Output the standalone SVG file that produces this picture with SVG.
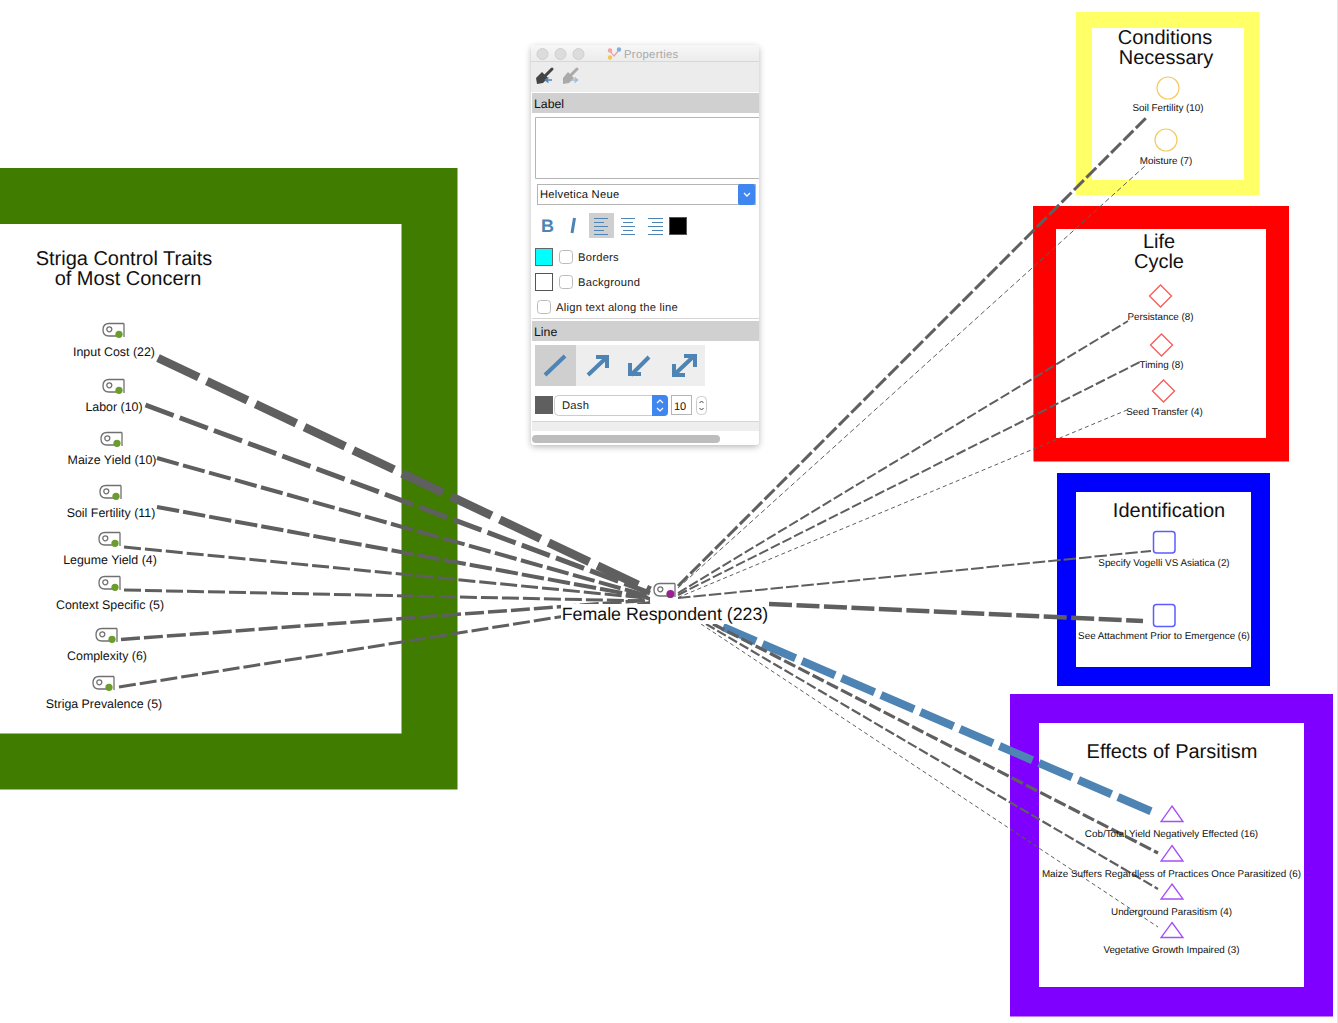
<svg xmlns="http://www.w3.org/2000/svg" width="1338" height="1023" viewBox="0 0 1338 1023">
<style>
text{font-family:"Liberation Sans",Arial,sans-serif;fill:#111;text-rendering:geometricPrecision}
.t{font-size:20px;text-anchor:middle}
.l{font-size:12.400px;text-anchor:middle}
.s{font-size:9.850px;text-anchor:middle}
.c{fill:none;stroke:#5f5f5f}
.p{font-size:11.200px;letter-spacing:.25px;fill:#222}
.sec{fill:#d0d0d0}
.bx{fill:#fff;stroke:#b5b5b5;stroke-width:1}
.ar{fill:none;stroke:#4d84b4;stroke-width:4}
.ic{fill:none;stroke:#707070;stroke-width:1.300}
.dm{fill:#fff;stroke:#fa5a5a;stroke-width:1.300}
.sq{fill:#fff;stroke:#5c5cff;stroke-width:1.500}
.tr{fill:#fff;stroke:#a54dfa;stroke-width:1.300}
.cr{fill:#fff;stroke:#f2cc60;stroke-width:1.200}
</style>
<defs>
<g id="act"><path class="ic" d="M19 -6.500H4Q-2 -6.500 -2 0Q-2 6 4 6H14M19 -6.500V7"/><circle class="ic" cx="4.300" cy="-0.700" r="2.500"/><circle cx="14" cy="4.300" r="3.600" fill="#6b9c2e"/></g>
<linearGradient id="tb" x1="0" y1="0" x2="0" y2="1"><stop offset="0" stop-color="#f7f7f7"/><stop offset="1" stop-color="#ebebeb"/></linearGradient>
<filter id="sh" x="-10%" y="-5%" width="120%" height="110%"><feDropShadow dx="0" dy="2" stdDeviation="3" flood-color="#000" flood-opacity=".28"/></filter>
</defs>
<rect width="1338" height="1023" fill="#fff"/>
<rect x="1337" width="1" height="1023" fill="#e6e6e6"/>
<g id="frames">
<path id="frame-traits" fill="#3f7c00" fill-rule="evenodd" d="M0 168H457.500V789.500H0ZM0 224V733.500H401.500V224Z"/>
<path id="frame-conditions" fill="#ffff66" fill-rule="evenodd" d="M1076 12H1259.500V195H1076ZM1092 28V180H1244V28Z"/>
<path id="frame-life" fill="#ff0000" fill-rule="evenodd" d="M1033 206H1289V461.500H1033.500ZM1056 229V438H1266V229Z"/>
<path id="frame-ident" fill="#0000ff" fill-rule="evenodd" d="M1057 473H1270V686H1057ZM1076 492V667H1251V492Z"/>
<path id="frame-effects" fill="#8000ff" fill-rule="evenodd" d="M1010 694H1333V1016.500H1010ZM1039 723V987H1304V723Z"/>
</g>
<g id="connectors">
<path class="c" stroke-width="8.500" stroke-dasharray="45 9" d="M158 358L650 590.500"/>
<path class="c" stroke-width="5" stroke-dasharray="30 6.500" d="M145.500 405L650 593"/>
<path class="c" stroke-width="4" stroke-dasharray="22.500 4.500" d="M157 458L650 596.500"/>
<path class="c" stroke-width="4" stroke-dasharray="22.500 4" d="M157 507L650 598"/>
<path class="c" stroke-width="3" stroke-dasharray="17 4" d="M124 547L650 598.500"/>
<path class="c" stroke-width="3" stroke-dasharray="17 4" d="M124 590L650 601"/>
<path class="c" stroke-width="3.500" stroke-dasharray="19 4" d="M121 639.500L650 600"/>
<path class="c" stroke-width="3" stroke-dasharray="17 4" d="M119 687L650 602.500"/>
<path class="c" stroke-width="3" stroke-dasharray="14 3.500" d="M678 586L1147 117"/>
<path class="c" stroke-width="1" stroke-dasharray="5 3" d="M678 588L1145 166"/>
<path class="c" stroke-width="2" stroke-dasharray="10 3" d="M678 593L1128 321"/>
<path class="c" stroke-width="2" stroke-dasharray="10 3" d="M678 595L1140 362"/>
<path class="c" stroke-width="1" stroke-dasharray="4 3" d="M678 597.500L1127 410"/>
<path class="c" stroke-width="2" stroke-dasharray="12.500 3" d="M678 598L1151 551"/>
<path class="c" stroke-width="4.500" stroke-dasharray="23 4.500" d="M769 604L1143 621"/>
<path stroke="#4d84b4" fill="none" stroke-width="8" stroke-dasharray="36 7" d="M723 627L1155 813"/>
<path class="c" stroke-width="3.200" stroke-dasharray="12.500 3.500" d="M713 624L1158 853"/>
<path class="c" stroke-width="2.200" stroke-dasharray="10 3" d="M706 624L1158 889"/>
<path class="c" stroke-width="1" stroke-dasharray="4 3" d="M701 624L1158 927"/>
</g>
<g id="panel">
<rect x="531" y="45" width="228" height="400" rx="4" fill="#fff" filter="url(#sh)"/>
<path d="M531 62V49Q531 45 535 45H755Q759 45 759 49V62Z" fill="url(#tb)"/>
<path d="M531 61.500H759" stroke="#d8d8d8"/>
<rect x="531" y="62" width="228" height="30" fill="#ececec"/>
<circle cx="542.500" cy="54" r="5.500" fill="#dcdcdc" stroke="#cfcfcf"/><circle cx="560.500" cy="54" r="5.500" fill="#dcdcdc" stroke="#cfcfcf"/><circle cx="578.500" cy="54" r="5.500" fill="#dcdcdc" stroke="#cfcfcf"/>
<path d="M610 51L614 56L619 50" stroke-width="1.200" stroke="#e8a0a0" fill="none"/>
<circle cx="610" cy="50.500" r="2.200" fill="#f5a3a3"/><circle cx="619" cy="49.500" r="2.200" fill="#7fb2d8"/><circle cx="610" cy="57.500" r="2.200" fill="#f0c850"/>
<text x="624" y="58" style="font-size:11.300px;letter-spacing:.3px;fill:#a8a8a8">Properties</text>
<path d="M552 69L545 76" stroke="#444" stroke-width="3" stroke-linecap="round"/>
<path d="M536 78L542 72L548 78L543 83L537 84Z" fill="#444"/>
<path d="M552 80H546M548.500 77.500L545.500 80L548.500 82.500" stroke="#4d84b4" stroke-width="1.500" fill="none"/>
<path d="M577 69L570 76" stroke="#aaa" stroke-width="3" stroke-linecap="round"/>
<path d="M563 78L568 72L574 78L569 83L563 84Z" fill="#aaa"/>
<path d="M571 80H577M574.500 77.500L577.500 80L574.500 82.500" stroke="#9dbdd8" stroke-width="1.500" fill="none"/>
<rect class="sec" x="532" y="93" width="227" height="20"/>
<text x="534" y="108" style="font-size:12.300px">Label</text>
<path d="M759 117.500H535.500V178.500H759" fill="#fff" stroke="#b5b5b5"/>
<rect class="bx" x="537.500" y="184.500" width="218" height="20"/>
<rect x="738" y="184" width="17" height="21" rx="2" fill="#3f86f0"/>
<path d="M744 193L747 196L750 193" stroke="#fff" stroke-width="1.300" fill="none"/>
<text class="p" x="540" y="198" style="fill:#111">Helvetica Neue</text>
<text x="541" y="232" style="font-size:18px;font-weight:bold;fill:#4d84b4">B</text>
<path d="M574.500 218L572 233" stroke="#4d84b4" stroke-width="3"/>
<rect x="589" y="213" width="25" height="25" fill="#cfcfcf"/>
<path d="M594 218.500H608M594 222.500H604M594 226.500H608M594 230.500H604M594 234.500H608M621 218.500H635M623 222.500H633M621 226.500H635M623 230.500H633M621 234.500H635M648 218.500H663M652 222.500H663M648 226.500H663M652 230.500H663M648 234.500H663" stroke="#4d84b4" fill="none"/>
<rect x="669.500" y="217.500" width="17" height="17" fill="#000" stroke="#555"/>
<rect x="535.500" y="248.500" width="17" height="17" fill="#00ffff" stroke="#666"/>
<rect x="559.500" y="250.500" width="13" height="13" rx="3" fill="#fff" stroke="#bbb"/>
<text class="p" x="578" y="261">Borders</text>
<rect x="535.500" y="273.500" width="17" height="17" fill="#fff" stroke="#555"/>
<rect x="559.500" y="275.500" width="13" height="13" rx="3" fill="#fff" stroke="#bbb"/>
<text class="p" x="578" y="286">Background</text>
<rect x="537.500" y="300.500" width="13" height="13" rx="3" fill="#fff" stroke="#bbb"/>
<text class="p" x="556" y="311">Align text along the line</text>
<path d="M532 318.500H759" stroke="#d5d5d5"/>
<rect class="sec" x="532" y="321" width="227" height="20"/>
<text x="534" y="336" style="font-size:12.300px">Line</text>
<rect x="535" y="345" width="170" height="41" fill="#eeeeee"/>
<rect x="535" y="345" width="41" height="41" fill="#cfcfcf"/>
<path d="M545 375L565 356" class="ar"/>
<path d="M588 375L606 358M596 357H607V368" class="ar"/>
<path d="M649 357L631 375M630 363V374H641" class="ar"/>
<path d="M675 374L694 356M684 356H695V367M674 364V375H685" class="ar"/>
<rect x="535" y="396" width="18" height="18" fill="#5f5f5f"/>
<rect x="554.500" y="395.500" width="113" height="20" rx="4" fill="#fff" stroke="#ccc"/>
<path d="M652 395H664Q668 395 668 399V412Q668 416 664 416H652Z" fill="#3f86f0"/>
<path d="M657 403L660 400L663 403M657 408L660 411L663 408" stroke="#fff" stroke-width="1.200" fill="none"/>
<text class="p" x="562" y="409">Dash</text>
<rect class="bx" x="671.500" y="395.500" width="20" height="19"/>
<text x="674" y="410" style="font-size:11px">10</text>
<rect x="696.500" y="396.500" width="10" height="18" rx="4" fill="#fff" stroke="#ccc"/>
<path d="M699.500 403L701.500 401L703.500 403M699.500 408L701.500 410L703.500 408" stroke="#444" fill="none"/>
<path d="M532 421.500H759" stroke="#d5d5d5"/>
<rect x="532" y="422" width="227" height="9" fill="#eeeeee"/>
<rect x="532" y="435" width="188" height="8" rx="4" fill="#bdbdbd"/>
</g>
<g id="node-female"><use href="#act" x="656" y="590"/><circle cx="670.500" cy="594" r="3.900" fill="#9b1f96"/><rect x="561" y="604" width="208" height="20" fill="#fff"/><text x="665" y="620" style="font-size:17.800px;text-anchor:middle">Female Respondent (223)</text></g>
<g id="traits-title"><text class="t" x="124" y="265">Striga Control Traits</text><text class="t" x="128" y="285">of Most Concern</text></g>
<g id="n-input"><use href="#act" x="105" y="330"/><text class="l" x="114" y="356">Input Cost (22)</text></g>
<g id="n-labor"><use href="#act" x="105" y="386"/><text class="l" x="114" y="411">Labor (10)</text></g>
<g id="n-maize"><use href="#act" x="103" y="439"/><text class="l" x="112" y="464">Maize Yield (10)</text></g>
<g id="n-soil"><use href="#act" x="102" y="492"/><text class="l" x="111" y="517">Soil Fertility (11)</text></g>
<g id="n-legume"><use href="#act" x="101" y="539"/><text class="l" x="110" y="564">Legume Yield (4)</text></g>
<g id="n-context"><use href="#act" x="101" y="583"/><text class="l" x="110" y="609">Context Specific (5)</text></g>
<g id="n-complex"><use href="#act" x="98" y="635"/><text class="l" x="107" y="660">Complexity (6)</text></g>
<g id="n-prev"><use href="#act" x="95" y="683"/><text class="l" x="104" y="708">Striga Prevalence (5)</text></g>
<g id="cond-title"><text class="t" x="1165" y="43.500">Conditions</text><text class="t" x="1166" y="63.500">Necessary</text></g>
<g id="n-fert"><circle class="cr" cx="1168" cy="88" r="11"/><text class="s" x="1168" y="111">Soil Fertility (10)</text></g>
<g id="n-moist"><circle class="cr" cx="1166" cy="140" r="11"/><text class="s" x="1166" y="164">Moisture (7)</text></g>
<g id="life-title"><text class="t" x="1159" y="248">Life</text><text class="t" x="1159" y="268">Cycle</text></g>
<g id="n-pers"><path class="dm" d="M1160.500 285L1171.500 296L1160.500 307L1149.500 296Z"/><text class="s" x="1160.500" y="320">Persistance (8)</text></g>
<g id="n-timing"><path class="dm" d="M1161.500 334L1172.500 345L1161.500 356L1150.500 345Z"/><text class="s" x="1161.500" y="368">Timing (8)</text></g>
<g id="n-seed"><path class="dm" d="M1163.500 380L1174.500 391L1163.500 402L1152.500 391Z"/><text class="s" x="1164.500" y="415">Seed Transfer (4)</text></g>
<g id="id-title"><text class="t" x="1169" y="517">Identification</text></g>
<g id="n-vog"><rect class="sq" x="1153.500" y="531.500" width="21.500" height="21.500" rx="3"/><text class="s" x="1164" y="566">Specify Vogelli VS Asiatica (2)</text></g>
<g id="n-att"><rect class="sq" x="1153.500" y="604.500" width="21.500" height="22" rx="3"/><text class="s" x="1164" y="639">See Attachment Prior to Emergence (6)</text></g>
<g id="eff-title"><text class="t" x="1172" y="758">Effects of Parsitism</text></g>
<g id="n-cob"><path class="tr" d="M1172 806L1183 821.500H1161Z"/><text class="s" x="1171.500" y="837">Cob/Total Yield Negatively Effected (16)</text></g>
<g id="n-suffers"><path class="tr" d="M1172 845.500L1183 861H1161Z"/><text class="s" x="1171.500" y="877">Maize Suffers Regardless of Practices Once Parasitized (6)</text></g>
<g id="n-under"><path class="tr" d="M1172 884L1183 899H1161Z"/><text class="s" x="1171.500" y="915">Underground Parasitism (4)</text></g>
<g id="n-veg"><path class="tr" d="M1172 922.500L1183 937.500H1161Z"/><text class="s" x="1171.500" y="953">Vegetative Growth Impaired (3)</text></g>
</svg>
